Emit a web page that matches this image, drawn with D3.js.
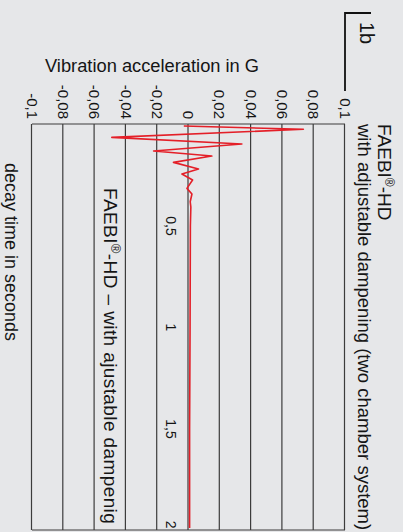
<!DOCTYPE html>
<html>
<head>
<meta charset="utf-8">
<script src="https://cdn.jsdelivr.net/npm/d3@7/dist/d3.min.js"></script>
<style>
  html, body { margin: 0; padding: 0; background: #e6e7e9; }
  svg { display: block; }
  text { font-family: "Liberation Sans", Arial, sans-serif; fill: #151515; }
</style>
</head>
<body>
<svg id="chart" width="403" height="532"></svg>
<script>
// Decay measurement: time in seconds and acceleration in G
const timeS  = [0.010, 0.026, 0.066, 0.0985, 0.133, 0.158, 0.189, 0.222, 0.246, 0.276, 0.317, 0.345, 0.383, 0.409, 0.50, 1.00, 1.50, 1.99];
const accelG = [-0.003, 0.0734, -0.049, 0.0341, -0.0223, 0.0149, -0.0096, 0.0064, -0.0042, 0.0026, -0.0010, 0.0022, 0.0011, 0.0015, 0.0012, 0.0010, 0.0007, 0.0007];

const accelTicks      = [-0.1, -0.08, -0.06, -0.04, -0.02, 0, 0.02, 0.04, 0.06, 0.08, 0.1];
const accelTickLabels = ["-0,1", "-0,08", "-0,06", "-0,04", "-0,02", "0", "0,02", "0,04", "0,06", "0,08", "0,1"];
const timeTicks       = [0.5, 1, 1.5, 2];
const timeTickLabels  = ["0,5", "1", "1,5", "2"];

const svg = d3.select("#chart");

// The plot is laid out as an ordinary chart (time across, acceleration up)
// and then turned a quarter turn clockwise.
const W = 406, H = 313;
const g = svg.append("g").attr("transform", "translate(345,124) rotate(90)");

const x = d3.scaleLinear().domain([0, 2]).range([0, W]);
const y = d3.scaleLinear().domain([-0.1, 0.1]).range([H, 0]);

// acceleration axis with full-width grid lines
const yAxis = g.append("g")
  .call(d3.axisLeft(y)
    .tickValues(accelTicks)
    .tickFormat((d, i) => accelTickLabels[i])
    .tickSize(-W)
    .tickPadding(5));
yAxis.select(".domain").remove();
yAxis.selectAll(".tick line").attr("stroke", "#3c3c3c").attr("stroke-width", 1.2);
yAxis.selectAll(".tick text")
  .attr("font-size", 15)
  .attr("font-family", "'Liberation Sans', Arial, sans-serif")
  .attr("fill", "#151515");

// frame ends at t = 0 and t = 2
g.append("g").selectAll("line").data([0, 2]).join("line")
  .attr("x1", d => x(d)).attr("x2", d => x(d))
  .attr("y1", 0).attr("y2", H)
  .attr("stroke", "#3c3c3c").attr("stroke-width", 1.2);

// time labels sit just under the zero line
const xAxis = g.append("g")
  .attr("transform", `translate(0,${y(0)})`)
  .call(d3.axisBottom(x)
    .tickValues(timeTicks)
    .tickFormat((d, i) => timeTickLabels[i])
    .tickSize(0)
    .tickPadding(13));
xAxis.select(".domain").remove();
xAxis.selectAll(".tick text")
  .attr("font-size", 14)
  .attr("font-family", "'Liberation Sans', Arial, sans-serif")
  .attr("fill", "#151515");
xAxis.selectAll(".tick").filter(d => d === 2).select("text")
  .attr("text-anchor", "end").attr("dx", -2);

// measured decay curve
const pts = timeS.map((t, i) => ({ t, v: accelG[i] }));
g.append("path")
  .datum(pts)
  .attr("fill", "none")
  .attr("stroke", "#e41f28")
  .attr("stroke-width", 1.6)
  .attr("stroke-linejoin", "round")
  .attr("d", d3.line().x(d => x(d.t)).y(d => y(d.v)));

// curve label inside the plot
const inLabel = g.append("text")
  .attr("x", 64).attr("y", 241)
  .attr("font-size", 19)
  .attr("letter-spacing", 0.4);
inLabel.append("tspan").text("FAEBI");
inLabel.append("tspan").attr("baseline-shift", "super").attr("font-size", 13).text("®");
inLabel.append("tspan").text("-HD – with ajustable dampenig");

// heading above the plot
const head1 = g.append("text").attr("x", 0).attr("y", -33).attr("font-size", 19);
head1.append("tspan").text("FAEBI");
head1.append("tspan").attr("baseline-shift", "super").attr("font-size", 12).text("®");
head1.append("tspan").text("-HD");
g.append("text").attr("x", 0).attr("y", -13).attr("font-size", 18.5)
  .text("with adjustable dampening (two chamber system)");

// figure tag with its corner bracket
g.append("path")
  .attr("d", "M-33,0 L-111,0 L-111,-26")
  .attr("fill", "none").attr("stroke", "#111").attr("stroke-width", 1.8);
g.append("text").attr("x", -102).attr("y", -15).attr("font-size", 20).text("1b");

// time axis title
g.append("text")
  .attr("x", 128).attr("y", 340)
  .attr("text-anchor", "middle")
  .attr("font-size", 18)
  .text("decay time in seconds");

// acceleration axis title (upright)
svg.append("text")
  .attr("x", 45).attr("y", 72)
  .attr("font-size", 18.3)
  .text("Vibration acceleration in G");
</script>
</body>
</html>
